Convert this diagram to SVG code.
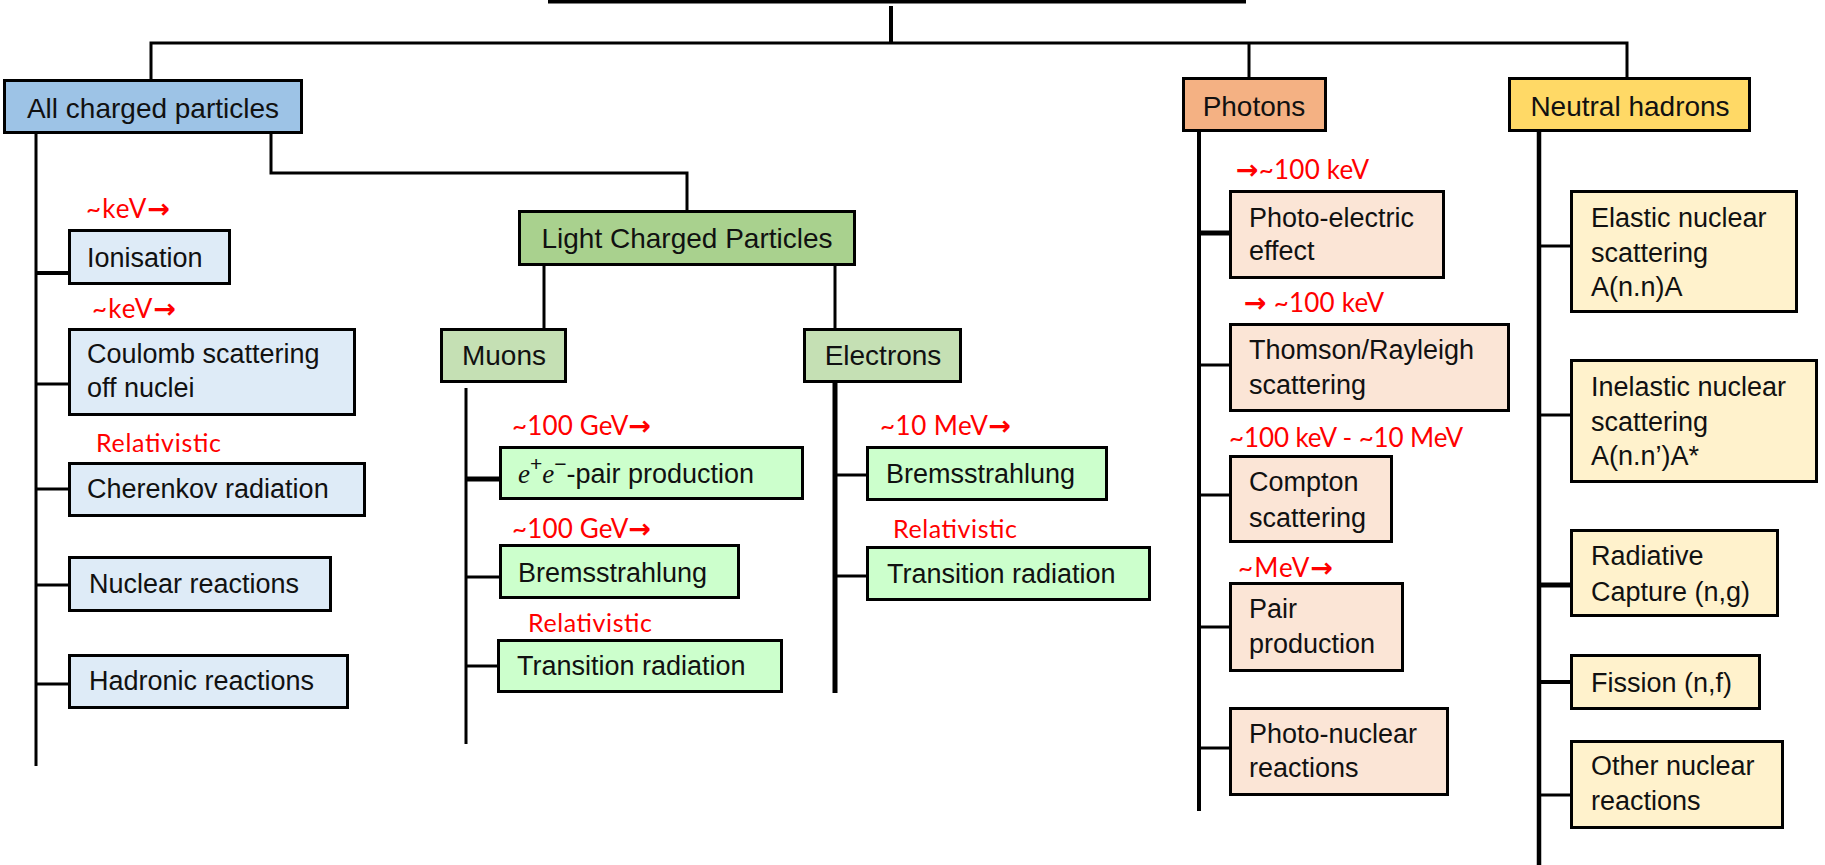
<svg xmlns="http://www.w3.org/2000/svg" width="1825" height="865" viewBox="0 0 1825 865">
<style>
.b{stroke:#000;stroke-width:3}
.t{font-family:"Liberation Sans",Arial,sans-serif;font-size:27px;fill:#111}
.h{font-family:"Liberation Sans",Arial,sans-serif;font-size:28px;fill:#111;text-anchor:middle}
.r{font-family:Lato,"Open Sans",sans-serif;font-size:26px;fill:#ff0000}
.rc{font-family:Lato,"Open Sans",sans-serif;font-size:25px;fill:#ff0000}
.ar{font-family:"DejaVu Sans",sans-serif;font-weight:bold;font-size:27px}
.c{stroke:#000;stroke-width:3;fill:none}
.ck{stroke:#000;stroke-width:5;fill:none}
.acp{fill:#9dc3e6}.acs{fill:#deebf7}
.lcp{fill:#a9d18e}.lcs{fill:#c5e0b4}.lcq{fill:#ccffcc}
.php{fill:#f4b183}.phs{fill:#fbe5d6}
.nhp{fill:#ffd966}.nhs{fill:#fff2cc}
</style>
<g id="connectors">
<line class="ck" x1="548" y1="1" x2="1246" y2="1" stroke-width="4"/>
<line class="c" x1="891" y1="6" x2="891" y2="43" style="stroke-width:4"/>
<polyline class="c" points="151,79 151,43 1627,43 1627,78"/>
<line class="c" x1="1249" y1="43" x2="1249" y2="78"/>
<polyline class="c" points="271,134 271,173 687,173 687,210"/>
<line class="c" x1="544" y1="266" x2="544" y2="328"/>
<line class="c" x1="835" y1="266" x2="835" y2="328"/>
<line class="c" x1="36" y1="134" x2="36" y2="766"/>
<line class="c" x1="36" y1="273" x2="68" y2="273" style="stroke-width:4"/>
<line class="c" x1="36" y1="384" x2="68" y2="384"/>
<line class="c" x1="36" y1="489" x2="68" y2="489"/>
<line class="c" x1="36" y1="585" x2="68" y2="585"/>
<line class="c" x1="36" y1="684" x2="68" y2="684"/>
<line class="c" x1="466" y1="388" x2="466" y2="744"/>
<line class="ck" x1="466" y1="479" x2="499" y2="479"/>
<line class="c" x1="466" y1="577" x2="499" y2="577"/>
<line class="c" x1="466" y1="666" x2="497" y2="666"/>
<line class="ck" x1="835" y1="383" x2="835" y2="693"/>
<line class="c" x1="835" y1="475" x2="866" y2="475"/>
<line class="c" x1="835" y1="576" x2="866" y2="576"/>
<line class="c" x1="1199" y1="132" x2="1199" y2="811" style="stroke-width:4"/>
<line class="ck" x1="1199" y1="233" x2="1229" y2="233"/>
<line class="c" x1="1199" y1="365" x2="1229" y2="365"/>
<line class="c" x1="1199" y1="495" x2="1229" y2="495"/>
<line class="c" x1="1199" y1="627" x2="1229" y2="627"/>
<line class="c" x1="1199" y1="748" x2="1229" y2="748"/>
<line class="c" x1="1539" y1="132" x2="1539" y2="865" style="stroke-width:4.5"/>
<line class="c" x1="1539" y1="246" x2="1570" y2="246"/>
<line class="c" x1="1539" y1="415" x2="1570" y2="415"/>
<line class="ck" x1="1539" y1="585" x2="1570" y2="585"/>
<line class="c" x1="1539" y1="682" x2="1570" y2="682" style="stroke-width:4"/>
<line class="c" x1="1539" y1="795" x2="1570" y2="795"/>
</g>

<g id="all-charged"><rect class="b acp" x="4.5" y="80.5" width="297" height="52"/><text class="h" x="153" y="118">All charged particles</text></g>
<g id="ionisation"><text class="r" x="86" y="218" textLength="84">~keV<tspan class="ar">→</tspan></text><rect class="b acs" x="69.5" y="230.5" width="160" height="53"/><text class="t" x="87" y="267">Ionisation</text></g>
<g id="coulomb"><text class="r" x="92" y="318" textLength="84">~keV<tspan class="ar">→</tspan></text><rect class="b acs" x="69.5" y="329.5" width="285" height="85"/><text class="t" x="87" y="363">Coulomb scattering</text><text class="t" x="87" y="397">off nuclei</text></g>
<g id="cherenkov"><text class="rc" x="96" y="452" textLength="125">Relativistic</text><rect class="b acs" x="69.5" y="463.5" width="295" height="52"/><text class="t" x="87" y="498">Cherenkov radiation</text></g>
<g id="nuclear"><rect class="b acs" x="69.5" y="557.5" width="261" height="53"/><text class="t" x="89" y="593">Nuclear reactions</text></g>
<g id="hadronic"><rect class="b acs" x="69.5" y="655.5" width="278" height="52"/><text class="t" x="89" y="690">Hadronic reactions</text></g>

<g id="lcp"><rect class="b lcp" x="519.5" y="211.5" width="335" height="53"/><text class="h" x="687" y="248">Light Charged Particles</text></g>
<g id="muons"><rect class="b lcs" x="441.5" y="329.5" width="124" height="52"/><text class="h" x="504" y="365">Muons</text></g>
<g id="electrons"><rect class="b lcs" x="804.5" y="329.5" width="156" height="52"/><text class="h" x="883" y="365">Electrons</text></g>
<g id="mu-pair"><text class="r" x="512" y="435" textLength="139">~100 GeV<tspan class="ar">→</tspan></text><rect class="b lcq" x="500.5" y="447.5" width="302" height="51"/><text class="t" x="518" y="483"><tspan font-family="'Liberation Serif',serif" font-style="italic">e</tspan><tspan dy="-12" font-size="21">+</tspan><tspan dy="12" font-family="'Liberation Serif',serif" font-style="italic">e</tspan><tspan dy="-12" font-size="21">−</tspan><tspan dy="12">-pair production</tspan></text></g>
<g id="mu-brems"><text class="r" x="512" y="538" textLength="139">~100 GeV<tspan class="ar">→</tspan></text><rect class="b lcq" x="500.5" y="545.5" width="238" height="52"/><text class="t" x="518" y="582">Bremsstrahlung</text></g>
<g id="mu-tr"><text class="rc" x="528" y="632" textLength="124">Relativistic</text><rect class="b lcq" x="498.5" y="640.5" width="283" height="51"/><text class="t" x="517" y="675">Transition radiation</text></g>
<g id="e-brems"><text class="r" x="880" y="435" textLength="131">~10 MeV<tspan class="ar">→</tspan></text><rect class="b lcq" x="867.5" y="447.5" width="239" height="52"/><text class="t" x="886" y="483">Bremsstrahlung</text></g>
<g id="e-tr"><text class="rc" x="893" y="538" textLength="124">Relativistic</text><rect class="b lcq" x="867.5" y="547.5" width="282" height="52"/><text class="t" x="887" y="583">Transition radiation</text></g>

<g id="photons"><rect class="b php" x="1183.5" y="78.5" width="142" height="52"/><text class="h" x="1254" y="116">Photons</text></g>
<g id="photo-electric"><text class="r" x="1236" y="179" textLength="133"><tspan class="ar">→</tspan>~100 keV</text><rect class="b phs" x="1230.5" y="191.5" width="213" height="86"/><text class="t" x="1249" y="227">Photo-electric</text><text class="t" x="1249" y="260">effect</text></g>
<g id="thomson"><text class="r" x="1244" y="312" textLength="140"><tspan class="ar">→</tspan> ~100 keV</text><rect class="b phs" x="1230.5" y="324.5" width="278" height="86"/><text class="t" x="1249" y="359">Thomson/Rayleigh</text><text class="t" x="1249" y="394">scattering</text></g>
<g id="compton"><text class="r" x="1229" y="447" textLength="234">~100 keV - ~10 MeV</text><rect class="b phs" x="1230.5" y="456.5" width="161" height="85"/><text class="t" x="1249" y="491">Compton</text><text class="t" x="1249" y="527">scattering</text></g>
<g id="pair"><text class="r" x="1238" y="577" textLength="95">~MeV<tspan class="ar">→</tspan></text><rect class="b phs" x="1230.5" y="583.5" width="172" height="87"/><text class="t" x="1249" y="618">Pair</text><text class="t" x="1249" y="653">production</text></g>
<g id="photo-nuclear"><rect class="b phs" x="1230.5" y="708.5" width="217" height="86"/><text class="t" x="1249" y="743">Photo-nuclear</text><text class="t" x="1249" y="777">reactions</text></g>

<g id="neutral-hadrons"><rect class="b nhp" x="1509.5" y="78.5" width="240" height="52"/><text class="h" x="1630" y="116">Neutral hadrons</text></g>
<g id="elastic"><rect class="b nhs" x="1571.5" y="191.5" width="225" height="120"/><text class="t" x="1591" y="227">Elastic nuclear</text><text class="t" x="1591" y="262">scattering</text><text class="t" x="1591" y="296">A(n.n)A</text></g>
<g id="inelastic"><rect class="b nhs" x="1571.5" y="360.5" width="245" height="121"/><text class="t" x="1591" y="396">Inelastic nuclear</text><text class="t" x="1591" y="431">scattering</text><text class="t" x="1591" y="465">A(n.n’)A*</text></g>
<g id="radiative"><rect class="b nhs" x="1571.5" y="530.5" width="206" height="85"/><text class="t" x="1591" y="565">Radiative</text><text class="t" x="1591" y="601">Capture (n,g)</text></g>
<g id="fission"><rect class="b nhs" x="1571.5" y="655.5" width="188" height="53"/><text class="t" x="1591" y="692">Fission (n,f)</text></g>
<g id="other"><rect class="b nhs" x="1571.5" y="741.5" width="211" height="86"/><text class="t" x="1591" y="775">Other nuclear</text><text class="t" x="1591" y="810">reactions</text></g>
</svg>
